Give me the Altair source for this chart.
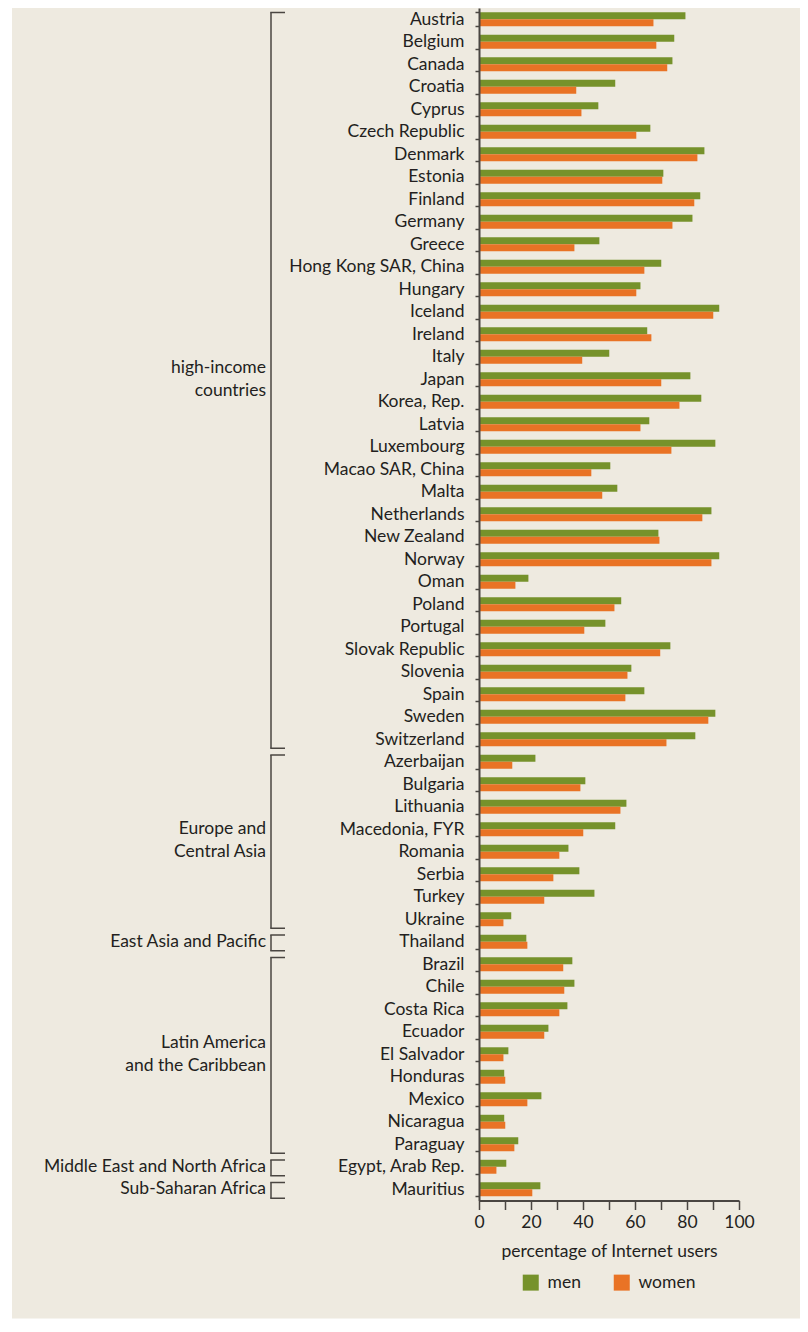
import altair as alt
import pandas as pd

countries = [
    "Austria", "Belgium", "Canada", "Croatia", "Cyprus", "Czech Republic", "Denmark",
    "Estonia", "Finland", "Germany", "Greece", "Hong Kong SAR, China", "Hungary",
    "Iceland", "Ireland", "Italy", "Japan", "Korea, Rep.", "Latvia", "Luxembourg",
    "Macao SAR, China", "Malta", "Netherlands", "New Zealand", "Norway", "Oman",
    "Poland", "Portugal", "Slovak Republic", "Slovenia", "Spain", "Sweden",
    "Switzerland",
    "Azerbaijan", "Bulgaria", "Lithuania", "Macedonia, FYR", "Romania", "Serbia",
    "Turkey", "Ukraine",
    "Thailand",
    "Brazil", "Chile", "Costa Rica", "Ecuador", "El Salvador", "Honduras", "Mexico",
    "Nicaragua", "Paraguay",
    "Egypt, Arab Rep.",
    "Mauritius",
]
men = [
    79.4, 75.1, 74.4, 52.4, 45.9, 65.9, 86.7, 70.9, 85.1, 82.1, 46.3, 70.1, 62.1,
    92.4, 64.7, 50.1, 81.3, 85.5, 65.5, 90.9, 50.5, 53.2, 89.4, 69.0, 92.4, 19.0,
    54.7, 48.6, 73.6, 58.6, 63.6, 90.9, 83.2,
    21.7, 40.9, 56.7, 52.4, 34.4, 38.6, 44.4, 12.4,
    18.2,
    35.9, 36.7, 34.0, 26.7, 11.3, 9.7, 24.0, 9.7, 15.1,
    10.5,
    23.6,
]
women = [
    67.1, 68.2, 72.4, 37.4, 39.4, 60.5, 84.0, 70.5, 82.8, 74.4, 36.7, 63.6, 60.5,
    90.1, 66.3, 39.7, 70.1, 77.1, 62.1, 74.0, 43.2, 47.4, 85.9, 69.4, 89.4, 14.0,
    52.1, 40.5, 69.7, 57.1, 56.3, 88.2, 72.1,
    12.8, 39.0, 54.4, 40.1, 30.9, 28.6, 25.1, 9.4,
    18.6,
    32.4, 32.8, 30.9, 25.1, 9.4, 10.1, 18.6, 10.1, 13.6,
    6.7,
    20.5,
]
regions = [
    "high-income\ncountries",
    "Europe and\nCentral Asia",
    "East Asia and Pacific",
    "Latin America\nand the Caribbean",
    "Middle East and North Africa",
    "Sub-Saharan Africa",
]
region_sizes = [33, 8, 1, 9, 1, 1]
genders = ["men", "women"]
colors = ["#76922B", "#E97325"]
x_ticks = [0, 10, 20, 30, 40, 50, 60, 70, 80, 90, 100]

FONT = "Lato"
FS = 17.5
TXT = "#231F20"
AX = "#4A4642"
BG = "#EEEAE0"

N = len(countries)
STEP = 22.5
H = N * STEP
W = 260

rows = []
for c, m, w in zip(countries, men, women):
    rows.append({"country": c, "gender": "men", "value": m})
    rows.append({"country": c, "gender": "women", "value": w})
df = pd.DataFrame(rows)

# region bracket table (row units)
br = []
start = 0
for r, n in zip(regions, region_sizes):
    end = start + n
    nlines = r.count("\n") + 1
    br.append({"region": r, "y0": start + 0.2, "y1": end - 0.1,
               "first": (start + end) / 2 - 0.5 * (nlines - 1)})
    start = end
bdf = pd.DataFrame(br)

yq = alt.Scale(domain=[0, N], reverse=True, nice=False, zero=False)

bg = alt.Chart(pd.DataFrame({"a": [0]})).mark_rect(color=BG).encode(
    x=alt.value(-467), x2=alt.value(W + 61),
    y=alt.value(0), y2=alt.value(H + 118),
)

bars = alt.Chart(df).mark_bar().encode(
    y=alt.Y("country:N", sort=countries,
            scale=alt.Scale(paddingInner=0.38, paddingOuter=0.19),
            axis=alt.Axis(title=None, domainColor=AX, domainWidth=2,
                          tickBand="extent", tickSize=4, tickColor=AX,
                          tickWidth=1.5, labelFont=FONT, labelFontSize=FS,
                          labelColor=TXT, labelPadding=11, grid=False,
                          zindex=2)),
    yOffset=alt.YOffset("gender:N", sort=genders,
                        scale=alt.Scale(paddingInner=0, paddingOuter=0)),
    x=alt.X("value:Q", scale=alt.Scale(domain=[0, 100], nice=False),
            axis=alt.Axis(values=x_ticks,
                          labelExpr="datum.value % 20 == 0 ? datum.label : ''",
                          title="percentage of Internet users",
                          titleFont=FONT, titleFontSize=FS,
                          titleFontWeight="normal", titleColor=TXT,
                          titlePadding=11, labelFont=FONT, labelFontSize=FS,
                          labelColor=TXT, labelPadding=4, labelFlush=False,
                          tickSize=9, tickWidth=1.5, tickColor=AX,
                          domainColor=AX, domainWidth=2, grid=False,
                          zindex=2)),
    color=alt.Color("gender:N",
                    scale=alt.Scale(domain=genders, range=colors),
                    legend=alt.Legend(title=None, orient="none",
                                      legendX=43, legendY=H + 73,
                                      direction="horizontal",
                                      symbolType="square", symbolSize=256,
                                      symbolStrokeWidth=0, labelFont=FONT,
                                      labelFontSize=FS, labelColor=TXT,
                                      labelOffset=8, columnPadding=32,
                                      padding=0, zindex=2)),
)

vline = alt.Chart(bdf).mark_rule(color=AX, strokeWidth=1.5).encode(
    y=alt.Y("y0:Q", scale=yq, axis=None),
    y2="y1:Q",
    x=alt.value(-208),
)
top_tick = alt.Chart(bdf).mark_rule(color=AX, strokeWidth=1.5).encode(
    y=alt.Y("y0:Q", scale=yq, axis=None),
    x=alt.value(-208.75), x2=alt.value(-194),
)
bot_tick = alt.Chart(bdf).mark_rule(color=AX, strokeWidth=1.5).encode(
    y=alt.Y("y1:Q", scale=yq, axis=None),
    x=alt.value(-208.75), x2=alt.value(-194),
)
labels = alt.Chart(bdf).mark_text(
    align="right", baseline="middle", font=FONT, fontSize=FS, color=TXT,
    lineBreak="\n", lineHeight=23,
).encode(
    y=alt.Y("first:Q", scale=yq, axis=None),
    x=alt.value(-213),
    text="region:N",
)

chart = alt.layer(bg, bars, vline, top_tick, bot_tick, labels).resolve_scale(
    y="independent"
).properties(
    width=W, height=H,
    autosize=alt.AutoSizeParams(type="none"),
    padding={"left": 471, "top": 0, "right": 61, "bottom": 118},
).configure_view(stroke=None)

chart.save("out.html", embed_options={"renderer": "svg", "actions": False})
